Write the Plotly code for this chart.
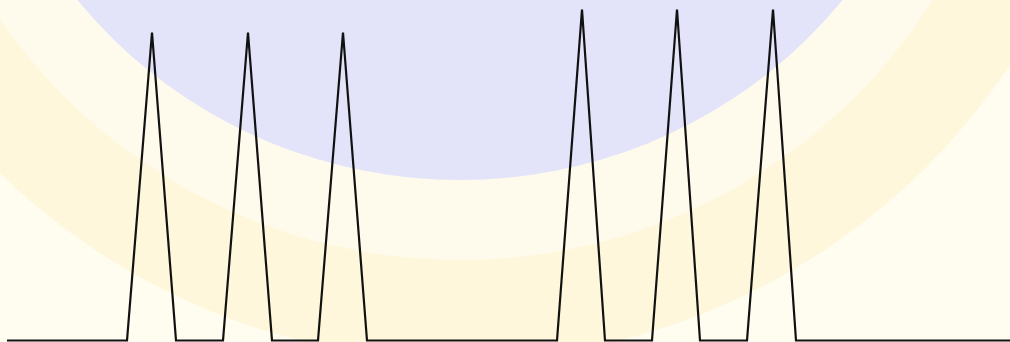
import plotly.graph_objects as go

# Data (x position, signal amplitude)
x_vals = [7, 127, 152, 176, 223, 248, 272, 318, 343, 367,
          557, 582, 605, 652, 677, 700, 747, 773, 796, 1010]
y_vals = [0, 0, 308, 0, 0, 308, 0, 0, 308, 0,
          0, 331, 0, 0, 331, 0, 0, 331, 0, 0]

fig = go.Figure()
fig.add_trace(go.Scatter(x=x_vals, y=y_vals, mode="lines",
                         line=dict(color="#111111", width=2.2),
                         hoverinfo="skip", showlegend=False))

shapes = [
    dict(type="rect", xref="x", yref="y", x0=0, x1=1010, y0=-1.5, y1=340.5,
         fillcolor="#fffcf0", line=dict(width=0), layer="below"),
    dict(type="circle", xref="x", yref="y", x0=460 - 660, x1=460 + 660,
         y0=640.5 - 660, y1=640.5 + 660,
         fillcolor="#fef7dc", line=dict(width=0), layer="below"),
    dict(type="circle", xref="x", yref="y", x0=460 - 560, x1=460 + 560,
         y0=640.5 - 560, y1=640.5 + 560,
         fillcolor="#fffbec", line=dict(width=0), layer="below"),
    dict(type="circle", xref="x", yref="y", x0=460 - 490, x1=460 + 490,
         y0=640.5 - 480, y1=640.5 + 480,
         fillcolor="#e3e3fa", line=dict(width=0), layer="below"),
]

fig.update_layout(
    width=1010, height=342,
    margin=dict(l=0, r=0, t=0, b=0),
    paper_bgcolor="white", plot_bgcolor="white",
    shapes=shapes,
    xaxis=dict(range=[0, 1010], visible=False, fixedrange=True),
    yaxis=dict(range=[-1.5, 340.5], visible=False, fixedrange=True),
)
fig.write_html("out.html",
               config={"displayModeBar": False, "staticPlot": True},
               post_script="document.body.style.margin='0';document.body.style.overflow='hidden';")
